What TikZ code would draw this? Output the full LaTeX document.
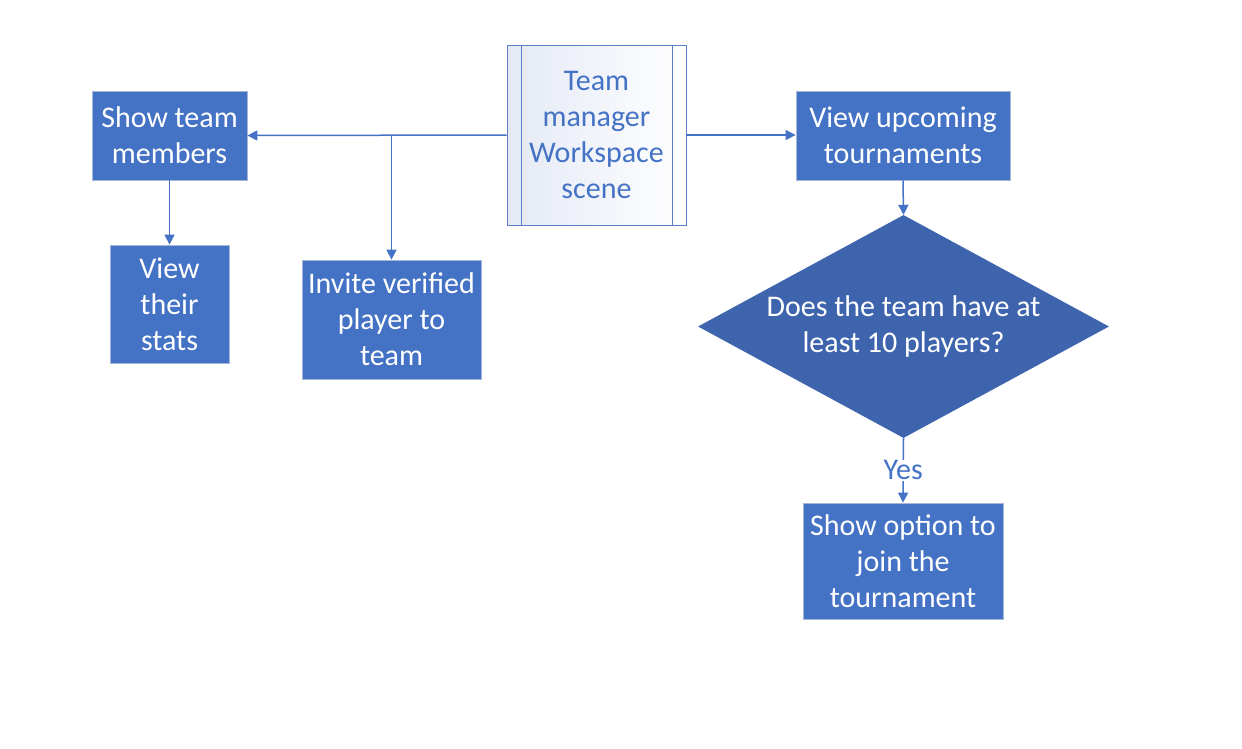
\documentclass[tikz,border=0pt]{standalone}
\usepackage{fontspec}
\setmainfont{Carlito}
\usetikzlibrary{shapes.geometric,arrows.meta}
\definecolor{cblue}{RGB}{68,114,196}
\definecolor{cdia}{RGB}{62,100,173}
\definecolor{cborder}{RGB}{165,182,214}
\definecolor{cpp}{RGB}{91,127,198}
\definecolor{cshade}{RGB}{228,233,245}
\tikzset{
  procbox/.style={rectangle, fill=cblue, draw=cborder, line width=0.8pt, text=white,
    font=\fontsize{30}{36}\selectfont, align=center, inner sep=0pt},
  decbox/.style={diamond, aspect=1.84, fill=cdia, draw=none, text=white,
    font=\fontsize{30}{36}\selectfont, align=center, inner sep=0pt},
  ppbox/.style={rectangle, left color=cshade, right color=white, draw=cpp, line width=0.8pt,
    text=cblue, font=\fontsize{30}{36}\selectfont, align=center, inner sep=0pt},
  arr/.style={draw=cblue, line width=1.5pt, -{Triangle[length=10pt,width=10pt]}},
  lbl/.style={text=cblue, fill=white, font=\fontsize{30}{36}\selectfont, inner sep=1pt}
}
\begin{document}
\begin{tikzpicture}[x=1pt,y=-1pt]
\useasboundingbox (0,0) rectangle (1242,748);
\node[ppbox, minimum width=179pt, minimum height=180pt] (pp) at (596.5,135) {Team\\manager\\Workspace\\scene};
\draw[cpp, line width=0.8pt] ([xshift=14.5pt]pp.north west) -- ([xshift=14.5pt]pp.south west);
\draw[cpp, line width=0.8pt] ([xshift=-14.5pt]pp.north east) -- ([xshift=-14.5pt]pp.south east);
\node[procbox, minimum width=155pt, minimum height=89pt] (show) at (169.5,135.5) {Show team\\members};
\node[procbox, minimum width=119pt, minimum height=118pt] (stats) at (169.5,304) {View\\their\\stats};
\node[procbox, minimum width=179pt, minimum height=119pt] (invite) at (391.5,319.5) {Invite verified\\player to\\team};
\node[procbox, minimum width=214pt, minimum height=89pt] (upc) at (903,135.5) {View upcoming\\tournaments};
\node[decbox, minimum width=411pt, minimum height=223pt] (dec) at (903.5,326.5) {Does the team have at\\least 10 players?};
\node[procbox, minimum width=200pt, minimum height=116pt] (join) at (903,561) {Show option to\\join the\\tournament};
\draw[arr] (pp.west) -- (show.east);
\coordinate (br) at (invite.north |- pp.west);
\draw[arr] (br) -- (invite.north);
\draw[arr] (show.south) -- (stats.north);
\draw[arr] (pp.east) -- (upc.west |- pp.east);
\draw[arr] (upc.south) -- (dec.north);
\draw[arr] (dec.south) -- node[lbl] {Yes} (join.north);
\end{tikzpicture}
\end{document}
